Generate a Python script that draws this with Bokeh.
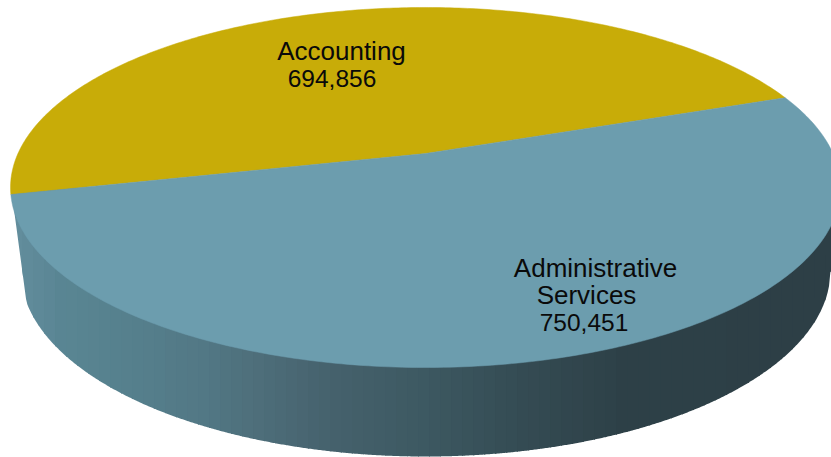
import numpy as np
from bokeh.core.properties import value
from bokeh.embed import file_html
from bokeh.models import Range1d
from bokeh.plotting import figure
from bokeh.resources import INLINE

# Data
categories = ["Accounting", "Administrative Services"]
amounts = [694856, 750451]
slice_colors = ["#c8ac08", "#6c9dae"]

# Drawing space is the page itself, y growing downward
WIDTH, HEIGHT = 831, 457

# Perspective of the pie's top face (unit circle -> screen)
APEX_X, APEX_Y = 425.0, 153.0
SCALE_X, SCALE_Y = 407.5, -144.7
TILT = 0.1889
START_DEG = 20.0

# Outline of the pie's base, and the wall's shading from left to right
BASE_CX, BASE_CY, BASE_A, BASE_B = 425.0, 270.0, 405.0, 186.0
BASE_LEFT_JOIN = 26.0
SHADE_X = [10, 60, 130, 200, 260, 330, 417, 520, 620, 831]
SHADE_R = [100, 90, 86, 83, 78, 70, 62, 53, 46, 45]
SHADE_G = [143, 134, 128, 121, 110, 98, 90, 76, 65, 63]
SHADE_B = [158, 148, 141, 134, 122, 109, 99, 84, 72, 70]
STRIPE = 11


def face_point(theta):
    u, v = np.cos(theta), np.sin(theta)
    w = 1 + TILT * v
    return APEX_X + SCALE_X * u / w, (APEX_Y + SCALE_Y * v) / w


p = figure(
    width=WIDTH, height=HEIGHT, output_backend="svg", toolbar_location=None,
    x_range=Range1d(0, WIDTH), y_range=Range1d(HEIGHT, 0),
    min_border=0, outline_line_color=None, background_fill_color="white",
)
p.axis.visible = False
p.grid.visible = False

# Wall: vertical shaded stripes down to the lower silhouette, which runs
# straight from the face's leftmost point onto the base outline
circle_x, circle_y = face_point(np.linspace(0, 2 * np.pi, 1440))
left = np.argmin(circle_x)
left_x, left_y = circle_x[left] + 0.5, circle_y[left]
rim_x = np.linspace(BASE_LEFT_JOIN, BASE_CX + BASE_A, 800)
rim_y = BASE_CY + BASE_B * np.sqrt(np.clip(1 - ((rim_x - BASE_CX) / BASE_A) ** 2, 0, 1))
low_x = np.concatenate([[left_x], rim_x])
low_y = np.concatenate([[left_y], rim_y])

edges = np.arange(left_x, WIDTH + STRIPE, STRIPE)
xs, ys, fills = [], [], []
for x0, x1 in zip(edges[:-1], edges[1:]):
    sx = np.linspace(x0, x1 + 1, 10)
    sy = np.interp(sx, low_x, low_y)
    xs.append(list(sx) + [x1 + 1, x0])
    ys.append(list(sy) + [left_y, left_y])
    mid = (x0 + x1) / 2
    r, g, b = (int(np.interp(mid, SHADE_X, c)) for c in (SHADE_R, SHADE_G, SHADE_B))
    fills.append(f"#{r:02x}{g:02x}{b:02x}")
p.patches(xs, ys, fill_color=fills, line_color=None)

# Top face: one wedge per category, sized by its share of the total
shares = np.array(amounts) / sum(amounts)
start = np.radians(START_DEG)
for share, color in zip(shares, slice_colors):
    theta = np.linspace(start, start + 2 * np.pi * share, 240)
    ax, ay = face_point(theta)
    p.patch(
        np.concatenate([[APEX_X], ax]), np.concatenate([[APEX_Y], ay]),
        fill_color=color, line_color=color, line_width=0.5,
    )
    start += 2 * np.pi * share

# Labels: wider words, slightly narrower figures
word_lines = [(categories[0], 341, 50.5), ("Administrative", 595, 267.5), ("Services", 586, 294.5)]
figure_lines = [(f"{amounts[0]:,}", 331.5, 77.5), (f"{amounts[1]:,}", 583.5, 321.5)]
for lines, size in ((word_lines, "26px"), (figure_lines, "24.5px")):
    p.text(
        x=[c[1] for c in lines], y=[c[2] for c in lines], text=[c[0] for c in lines],
        text_font=value("Liberation Sans"), text_font_size=size, text_color="#0a0a0a",
        text_align="center", text_baseline="middle",
    )

open("out.html", "w").write(file_html(p, INLINE))
